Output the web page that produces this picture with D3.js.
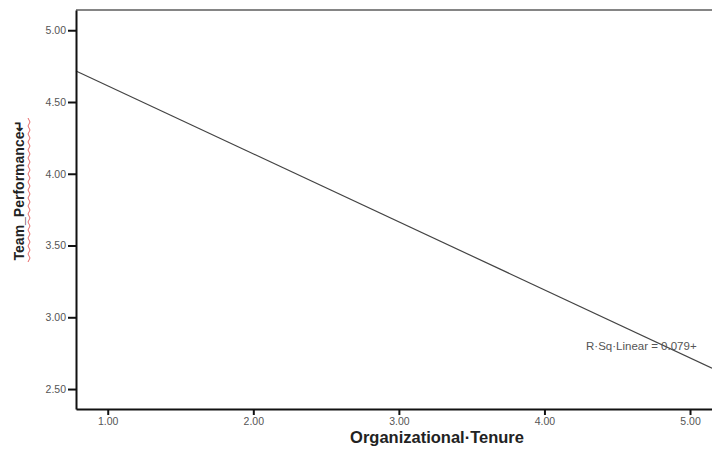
<!DOCTYPE html>
<meta charset="utf-8">
<title>Team Performance vs Organizational Tenure</title>
<style>
body { margin: 0; background: #fff; }
.tick text { font-family: Arial, "Liberation Sans", sans-serif; font-size: 10.5px; fill: #555; }
.axis-title { font-family: Arial, "Liberation Sans", sans-serif; font-weight: bold; fill: #222; }
</style>
<body>
<div id="chart"></div>
<script src="https://d3js.org/d3.v7.min.js"></script>
<script>

// axis ticks
var xTicks = [1, 2, 3, 4, 5];
var yTicks = [2.5, 3, 3.5, 4, 4.5, 5];

// visible ranges of the plot
var xDomain = [0.782, 5.151];
var yDomain = [2.361, 5.141];

// fitted line: y = intercept + slope * x
var intercept = 5.087,
    slope = -0.474,
    rSquare = "0.079";

var width = 712, height = 450;
var margin = {top: 10, right: 0, bottom: 41, left: 76};

var svg = d3.select("#chart").append("svg")
    .attr("width", width)
    .attr("height", height);

var x = d3.scaleLinear().domain(xDomain).range([margin.left, width - margin.right]);
var y = d3.scaleLinear().domain(yDomain).range([height - margin.bottom, margin.top]);

// top border
svg.append("line")
    .attr("x1", margin.left).attr("x2", width)
    .attr("y1", margin.top).attr("y2", margin.top)
    .attr("stroke", "#858585").attr("stroke-width", 2);

// regression line
var lineData = xDomain.map(function(v) { return [v, intercept + slope * v]; });
svg.append("path")
    .datum(lineData)
    .attr("fill", "none")
    .attr("stroke", "#444")
    .attr("stroke-width", 1.2)
    .attr("d", d3.line().x(function(d) { return x(d[0]); }).y(function(d) { return y(d[1]); }));

// axes
var xAxis = svg.append("g")
    .attr("transform", "translate(0," + (height - margin.bottom) + ")")
    .call(d3.axisBottom(x).tickValues(xTicks).tickFormat(d3.format(".2f")).tickSize(6).tickSizeOuter(0));
var yAxis = svg.append("g")
    .attr("transform", "translate(" + margin.left + ",0)")
    .call(d3.axisLeft(y).tickValues(yTicks).tickFormat(d3.format(".2f")).tickSize(8).tickSizeOuter(0));

[xAxis, yAxis].forEach(function(a) {
    a.select(".domain").attr("stroke", "#111").attr("stroke-width", 2);
    a.selectAll(".tick line").attr("stroke", "#111").attr("stroke-width", 2);
});
xAxis.selectAll(".tick text").attr("dy", "0.4em").attr("y", 12);
yAxis.selectAll(".tick text").attr("x", -10);

// annotation
svg.append("text")
    .attr("x", 586).attr("y", 350)
    .attr("font-family", "Arial, 'Liberation Sans', sans-serif")
    .attr("font-size", 11.5)
    .attr("fill", "#555")
    .text("R\u00b7Sq\u00b7Linear = " + rSquare + "+");

// axis titles
svg.append("text")
    .attr("class", "axis-title")
    .attr("x", 437).attr("y", 443)
    .attr("text-anchor", "middle")
    .attr("font-size", 16.5)
    .text("Organizational\u00b7Tenure");

var yTitle = svg.append("g").attr("transform", "translate(24,190) rotate(-90)");
yTitle.append("text")
    .attr("class", "axis-title")
    .attr("text-anchor", "middle")
    .attr("font-size", 14)
    .text("Team_Performance\u21b5");

// spell-check squiggle under the y title
var sq = [];
for (var i = 0; i <= 36; i++) sq.push([-72 + i * 4, 4 + (i % 2 ? 2 : 0)]);
yTitle.append("path")
    .attr("d", d3.line()(sq))
    .attr("fill", "none")
    .attr("stroke", "#e04040")
    .attr("stroke-width", 0.8);

</script>
</body>
